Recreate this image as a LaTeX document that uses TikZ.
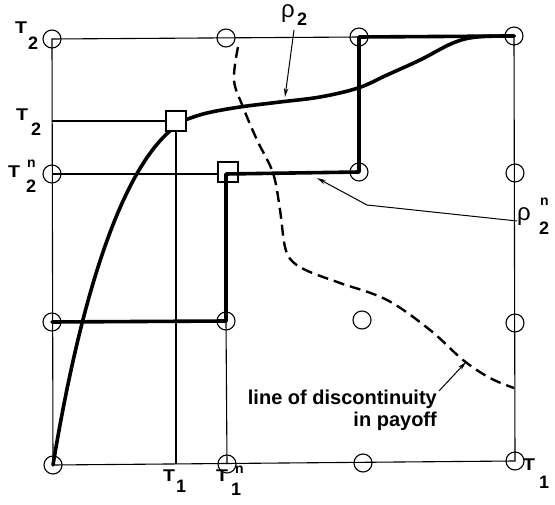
\documentclass[tikz,border=0pt]{standalone}
\usepackage{fontspec}
\setmainfont{Liberation Sans}
\usetikzlibrary{arrows.meta}
\newcommand\Tg{\scalebox{1.15}[1]{T}}
\begin{document}
\begin{tikzpicture}[x=1pt,y=-1pt,
  gridline/.style={line width=1.1pt},
  heavy/.style={line width=3.6pt, line cap=round, line join=round},
  dashline/.style={line width=2.4pt, dash pattern=on 11pt off 6pt},
  pointer/.style={line width=1pt, -{Stealth[length=9pt,width=4.5pt]}},
  gcirc/.style={circle, draw, line width=1.1pt, minimum size=18pt, inner sep=0pt},
  sqbox/.style={draw, line width=1.3pt, minimum size=20pt, inner sep=0pt},
  tglyph/.style={anchor=base west, inner sep=0pt, font=\fontsize{17}{17}\selectfont\bfseries},
  subd/.style={anchor=base west, inner sep=0pt, font=\fontsize{18}{18}\selectfont\bfseries},
  supn/.style={anchor=base west, inner sep=0pt, font=\fontsize{14}{14}\selectfont\bfseries},
  rho/.style={anchor=base west, inner sep=0pt, font=\fontsize{24}{24}\selectfont},
  note/.style={anchor=base east, inner sep=0pt, font=\fontsize{20}{20}\selectfont\bfseries}]
\useasboundingbox (0,0) rectangle (555,505);
% grid points
\coordinate (a1) at (52,39);  \coordinate (b1) at (226,38);  \coordinate (c1) at (359,37);  \coordinate (d1) at (514,36);
\coordinate (a2) at (52,174); \coordinate (b2) at (226,174); \coordinate (c2) at (359,172); \coordinate (d2) at (515,173);
\coordinate (a3) at (52,322); \coordinate (b3) at (226,321); \coordinate (c3) at (362,320); \coordinate (d3) at (515,323);
\coordinate (a4) at (53,465); \coordinate (b4) at (227,464); \coordinate (c4) at (363,463); \coordinate (d4) at (515,461);
\coordinate (lt) at (52,121);
\coordinate (bt) at (176,464);
% squares
\node[sqbox] (s2) at (228,172) {};
% thin grid lines
\draw[gridline] (a1) -- (d1) -- (d4) -- (a4) -- cycle;
\draw[gridline] (b3) -- (b4);
% rho_2 curve
\draw[heavy] (a4) .. controls (72,350) and (110,175) .. (176,126);
\draw[heavy] plot[smooth, tension=0.6] coordinates {(176,124) (185,120) (207,113) (240,107) (280,102) (320,97) (358,88) (387,75) (420,60) (453,43) (477,37) (d1)};
% square on top of curve
\node[sqbox, fill=white] (s1) at (176,121) {};
\draw[gridline] (lt) -- (s1.west);
\draw[gridline] (s1.south) -- (bt);
\draw[gridline] (a2) -- (a2 -| s2.west);
% rho_2^n path
\draw[heavy] (a3) -- (b3);
\draw[heavy] (b3) -- (b2) -- (c2) -- (c1) -- (d1);
% dashed line of discontinuity
\coordinate (dend) at (514,388);
\draw[dashline] plot[smooth, tension=0.6] coordinates {(238,47) (234,80) (243,107) (257,140) (273,173) (280,210) (285,247) (293,262) (310,272) (340,283) (387,300) (430,330) (463,360) (490,378) (dend)};
% grid circles
\foreach \p in {a1,b1,c1,d1,a2,c2,d2,a3,b3,c3,d3,a4,b4,c4,d4}
  \node[gcirc] (o\p) at (\p) {};
% labels
\node[tglyph] (tA) at (15,34) {\Tg};  \node[subd] (tAs) at (28,50) {2};
\node[tglyph] (tB) at (16,121) {\Tg}; \node[subd] (tBs) at (31,136) {2};
\node[tglyph] (tC) at (8,178) {\Tg}; \node[supn] (tCn) at (27,168) {n}; \node[subd] (tCs) at (26,193) {2};
\node[tglyph] (tD) at (163,481) {\Tg}; \node[subd] (tDs) at (176,493) {1};
\node[tglyph] (tE) at (216,481) {\Tg}; \node[supn] (tEn) at (235,473) {n}; \node[subd] (tEs) at (231,496) {1};
\node[tglyph] (tF) at (523,471) {\Tg}; \node[subd] (tFs) at (539,488) {1};
\node[rho] (r2) at (281,18) {ρ}; \node[subd] (r2s) at (297,26) {2};
\node[rho] (rn) at (517,221) {ρ}; \node[supn] (rnn) at (540,206) {n}; \node[subd] (rns) at (539,235) {2};
% pointers
\coordinate (p1s) at (294,30); \coordinate (p1e) at (285,97);
\draw[pointer] (p1s) -- (p1e);
\coordinate (p2s) at (517,221); \coordinate (p2m) at (367,205); \coordinate (p2e) at (317,178);
\draw[pointer] (p2s) -- (p2m) -- (p2e);
\node[note] (ld1) at (437,405) {line of discontinuity};
\node[note] (ld2) at (437,427) {in payoff};
\coordinate (p3s) at (439,391); \coordinate (p3e) at (466,362);
\draw[pointer] (p3s) -- (p3e);
\end{tikzpicture}
\end{document}
